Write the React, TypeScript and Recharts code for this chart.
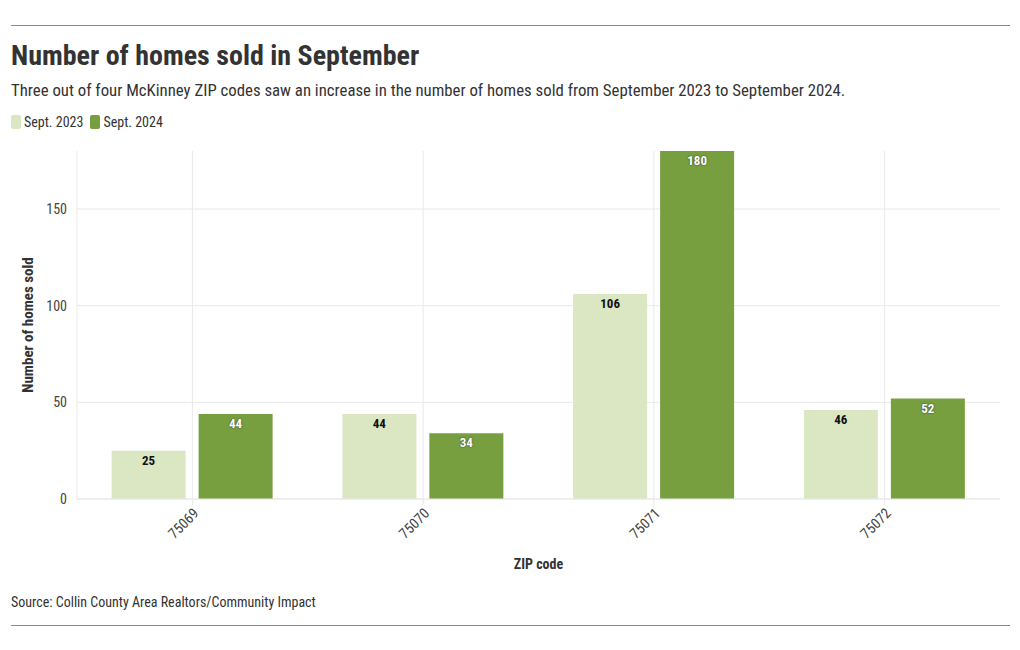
import React from 'react'
import { BarChart, Bar, XAxis, YAxis, CartesianGrid, Legend, LabelList, Label } from 'recharts'

const zipCodes = ['75069', '75070', '75071', '75072']
const sold2023 = [25, 44, 106, 46]
const sold2024 = [44, 34, 180, 52]
const yTicks = [0, 50, 100, 150]

const data = zipCodes.map((zip, i) => ({ zip, y2023: sold2023[i], y2024: sold2024[i] }))

const FONT = "'Roboto Condensed', 'Liberation Sans Narrow', 'DejaVu Sans Condensed', Roboto, sans-serif"
const LIGHT = '#dbe7c3'
const DARK = '#779f3f'
const GRID = '#e9e9e9'

function LegendContent() {
  const items = [
    { label: 'Sept. 2023', color: LIGHT },
    { label: 'Sept. 2024', color: DARK },
  ]
  return (
    <div style={{ height: 39, display: 'flex', alignItems: 'flex-start', fontFamily: FONT, fontSize: 14, color: '#333' }}>
      {items.map((it) => (
        <div key={it.label} style={{ display: 'flex', alignItems: 'center', marginRight: 7, height: 20 }}>
          <span style={{ display: 'inline-block', width: 10, height: 14, background: it.color, borderRadius: 2, marginRight: 3 }} />
          <span>{it.label}</span>
        </div>
      ))}
    </div>
  )
}

function YTitle(props: any) {
  const { viewBox } = props
  const x = viewBox.x + 17
  const y = viewBox.y + viewBox.height / 2
  return (
    <text x={x} y={y} transform={`rotate(-90 ${x} ${y})`} textAnchor="middle" dominantBaseline="central"
      fontFamily={FONT} fontSize={15} fontWeight="bold" fill="#333">
      Number of homes sold
    </text>
  )
}

export default function App() {
  return (
    <div style={{ position: 'relative', margin: -8, width: 1020, height: 650, background: '#fff', fontFamily: FONT, color: '#333' }}>
      <div style={{ position: 'absolute', left: 11, top: 25, width: 999, borderTop: '1px solid #888' }} />
      <div style={{ position: 'absolute', left: 11, top: 39, fontSize: 28, fontWeight: 'bold', color: '#333' }}>
        Number of homes sold in September
      </div>
      <div style={{ position: 'absolute', left: 11, top: 80, fontSize: 16.8, color: '#333' }}>
        Three out of four McKinney ZIP codes saw an increase in the number of homes sold from September 2023 to September 2024.
      </div>
      <div style={{ position: 'absolute', left: 0, top: 108 }}>
        <BarChart width={1020} height={470} data={data} margin={{ top: 4, right: 20, left: 11, bottom: 4 }}
          barCategoryGap="15%" barGap={13}>
          <Legend verticalAlign="top" align="left" content={<LegendContent />} />
          <CartesianGrid stroke={GRID} horizontalValues={yTicks} verticalValues={zipCodes} />
          <XAxis dataKey="zip" height={75} angle={-45} textAnchor="end" interval={0}
            tick={{ fontFamily: FONT, fontSize: 14.5, fill: '#444' }}
            axisLine={{ stroke: GRID }} tickLine={{ stroke: GRID }} tickSize={6} tickMargin={2}>
            <Label value="ZIP code" position="insideBottom" offset={5}
              style={{ fontFamily: FONT, fontSize: 14, fontWeight: 'bold', fill: '#333' }} />
          </XAxis>
          <YAxis width={66} domain={[0, 180]} ticks={yTicks} axisLine={{ stroke: GRID }} tickLine={false} tickMargin={4}
            tick={{ fontFamily: FONT, fontSize: 14, fill: '#444' }}>
            <Label content={<YTitle />} />
          </YAxis>
          <Bar dataKey="y2023" fill={LIGHT} isAnimationActive={false}>
            <LabelList dataKey="y2023" position="insideTop" offset={5}
              style={{ fontFamily: FONT, fontSize: 13, fontWeight: 'bold', fill: '#111' }} />
          </Bar>
          <Bar dataKey="y2024" fill={DARK} isAnimationActive={false}>
            <LabelList dataKey="y2024" position="insideTop" offset={5}
              style={{ fontFamily: FONT, fontSize: 13, fontWeight: 'bold', fill: '#fff', textShadow: '0 0 2px #333' }} />
          </Bar>
        </BarChart>
      </div>
      <div style={{ position: 'absolute', left: 11, top: 594, fontSize: 14, color: '#333' }}>
        Source: Collin County Area Realtors/Community Impact
      </div>
      <div style={{ position: 'absolute', left: 11, top: 625, width: 999, borderTop: '1px solid #888' }} />
    </div>
  )
}
